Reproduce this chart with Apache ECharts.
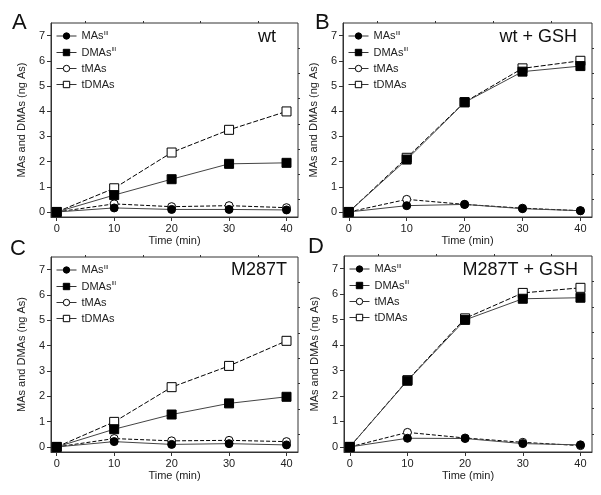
<!DOCTYPE html>
<html><head><meta charset="utf-8">
<script src="https://cdn.jsdelivr.net/npm/echarts@6/dist/echarts.min.js"></script>
<style>html,body{margin:0;padding:0;background:#fff}#c{width:601px;height:495px}</style>
</head><body><div id="c"></div>
<script>
const times = [0, 10, 20, 30, 40];
const xTicks = [0, 10, 20, 30, 40];
const yTicks = [0, 1, 2, 3, 4, 5, 6, 7];
const panelLetters = ['A', 'B', 'C', 'D'];
const panelTitles = ['wt', 'wt + GSH', 'M287T', 'M287T + GSH'];
const seriesNames = ['MAsIII', 'DMAsIII', 'tMAs', 'tDMAs'];

// Panel A: wt
const wt_MAs = [0, 0.16, 0.10, 0.10, 0.08];
const wt_DMAs = [0, 0.67, 1.30, 1.91, 1.95];
const wt_tMAs = [0, 0.32, 0.21, 0.25, 0.17];
const wt_tDMAs = [0, 0.94, 2.36, 3.26, 3.99];
// Panel B: wt + GSH
const wtg_MAs = [0, 0.25, 0.30, 0.13, 0.05];
const wtg_DMAs = [0, 2.08, 4.35, 5.57, 5.79];
const wtg_tMAs = [0, 0.50, 0.30, 0.15, 0.05];
const wtg_tDMAs = [0, 2.15, 4.36, 5.70, 6.00];
// Panel C: M287T
const m_MAs = [0, 0.21, 0.10, 0.13, 0.08];
const m_DMAs = [0, 0.70, 1.28, 1.72, 1.98];
const m_tMAs = [0, 0.33, 0.24, 0.26, 0.21];
const m_tDMAs = [0, 0.99, 2.36, 3.20, 4.19];
// Panel D: M287T + GSH
const mg_MAs = [0, 0.34, 0.33, 0.13, 0.08];
const mg_DMAs = [0, 2.60, 4.99, 5.82, 5.86];
const mg_tMAs = [0, 0.57, 0.35, 0.18, 0.05];
const mg_tDMAs = [0, 2.62, 5.05, 6.05, 6.25];

const panelData = [
  [wt_MAs, wt_DMAs, wt_tMAs, wt_tDMAs],
  [wtg_MAs, wtg_DMAs, wtg_tMAs, wtg_tDMAs],
  [m_MAs, m_DMAs, m_tMAs, m_tDMAs],
  [mg_MAs, mg_DMAs, mg_tMAs, mg_tDMAs]
];

const grids = [
  {left: 51, top: 23, width: 247, height: 194},
  {left: 343, top: 23, width: 249, height: 194},
  {left: 51, top: 257, width: 247, height: 195},
  {left: 344, top: 256, width: 248, height: 196}
];
const letterPos = [[12, 12], [315, 12], [10, 238], [308, 236]];
const titlePos = [[276, 28], [577, 28], [287, 261], [578, 261]];

const FONT = '"Liberation Sans", Arial, sans-serif';
const TXT = '#222';
const xMinor = [5, 15, 25, 35];
const yMinor = [0.5, 1.5, 2.5, 3.5, 4.5, 5.5, 6.5];

const styles = [
  {symbol: 'circle', size: 8, fill: '#000', line: 'solid', lc: '#444', z: 4},
  {symbol: 'rect', size: 9, fill: '#000', line: 'solid', lc: '#444', z: 4},
  {symbol: 'circle', size: 8, fill: '#fff', line: [4, 2], lc: '#000', z: 3},
  {symbol: 'rect', size: 9, fill: '#fff', line: [5, 2], lc: '#000', z: 3}
];

const option = {
  animation: false,
  backgroundColor: '#fff',
  textStyle: {fontFamily: FONT},
  grid: [], xAxis: [], yAxis: [], series: [], legend: [], title: []
};

grids.forEach((g, i) => {
  option.grid.push(Object.assign({show: true, borderColor: '#333', borderWidth: 1, containLabel: false}, g));
  option.xAxis.push({
    type: 'value', gridIndex: i, min: -1, max: 42,
    name: 'Time (min)', nameLocation: 'middle', nameGap: 18,
    nameTextStyle: {fontSize: 11, color: TXT, fontFamily: FONT},
    axisLine: {show: true, onZero: false, lineStyle: {color: '#333'}},
    axisTick: {show: true, length: 4, customValues: xTicks, lineStyle: {color: '#333'}},
    axisLabel: {show: true, customValues: xTicks, fontSize: 11, color: TXT, margin: 6, fontFamily: FONT},
    splitLine: {show: false}
  });
  option.yAxis.push({
    type: 'value', gridIndex: i, min: -0.2, max: 7.5,
    name: 'MAs and DMAs (ng As)', nameLocation: 'middle', nameGap: 24,
    nameTextStyle: {fontSize: 11, color: TXT, fontFamily: FONT},
    axisLine: {show: true, onZero: false, lineStyle: {color: '#333'}},
    axisTick: {show: true, length: 4, customValues: yTicks, lineStyle: {color: '#333'}},
    axisLabel: {show: true, customValues: yTicks, fontSize: 11, color: TXT, margin: 6, fontFamily: FONT},
    splitLine: {show: false}
  });
});
grids.forEach((g, i) => {
  option.xAxis.push({
    type: 'value', gridIndex: i, min: -1, max: 42,
    axisLine: {show: false, onZero: false},
    axisTick: {show: true, length: 2, customValues: xMinor, lineStyle: {color: '#333'}},
    axisLabel: {show: false}, splitLine: {show: false}
  });
  option.yAxis.push({
    type: 'value', gridIndex: i, min: -0.2, max: 7.5,
    axisLine: {show: false, onZero: false},
    axisTick: {show: true, length: 2, customValues: yMinor, lineStyle: {color: '#333'}},
    axisLabel: {show: false}, splitLine: {show: false}
  });
});

panelData.forEach((pd, i) => {
  [3, 2, 1, 0].forEach(k => {
    const s = styles[k];
    option.series.push({
      type: 'line', name: seriesNames[k], xAxisIndex: i, yAxisIndex: i,
      data: times.map((t, j) => [t, pd[k][j]]),
      symbol: s.symbol, symbolSize: s.size, showSymbol: true,
      lineStyle: {color: s.lc, width: 1, type: s.line},
      itemStyle: {color: s.fill, borderColor: '#000', borderWidth: 1, borderType: 'solid', opacity: 1},
      z: s.z
    });
  });
  option.legend.push({
    data: seriesNames, orient: 'vertical',
    left: grids[i].left + 5, top: grids[i].top + 7,
    itemWidth: 20, itemHeight: 8, itemGap: 5, padding: 0,
    selectedMode: false,
    itemStyle: {borderWidth: 1, borderType: 'solid', borderColor: '#000'},
    lineStyle: {width: 1, type: 'solid', color: '#333'},
    formatter: n => n.endsWith('III') ? n.slice(0, -3) + '{sup|III}' : n,
    textStyle: {fontSize: 11, color: TXT, fontFamily: FONT,
      rich: {sup: {fontSize: 6, verticalAlign: 'top', padding: [0, 0, 6, 0], color: TXT, fontFamily: FONT}}}
  });
  option.title.push({
    text: panelLetters[i], left: letterPos[i][0], top: letterPos[i][1], padding: 0,
    textStyle: {fontSize: 22, fontWeight: 'normal', color: '#111', fontFamily: FONT}
  });
  option.title.push({
    text: panelTitles[i], right: 601 - titlePos[i][0], top: titlePos[i][1], padding: 0,
    textStyle: {fontSize: 18, fontWeight: 'normal', color: '#111', fontFamily: FONT}
  });
});

const chart = echarts.init(document.getElementById('c'), null, {renderer: 'canvas'});
chart.setOption(option);
</script></body></html>
